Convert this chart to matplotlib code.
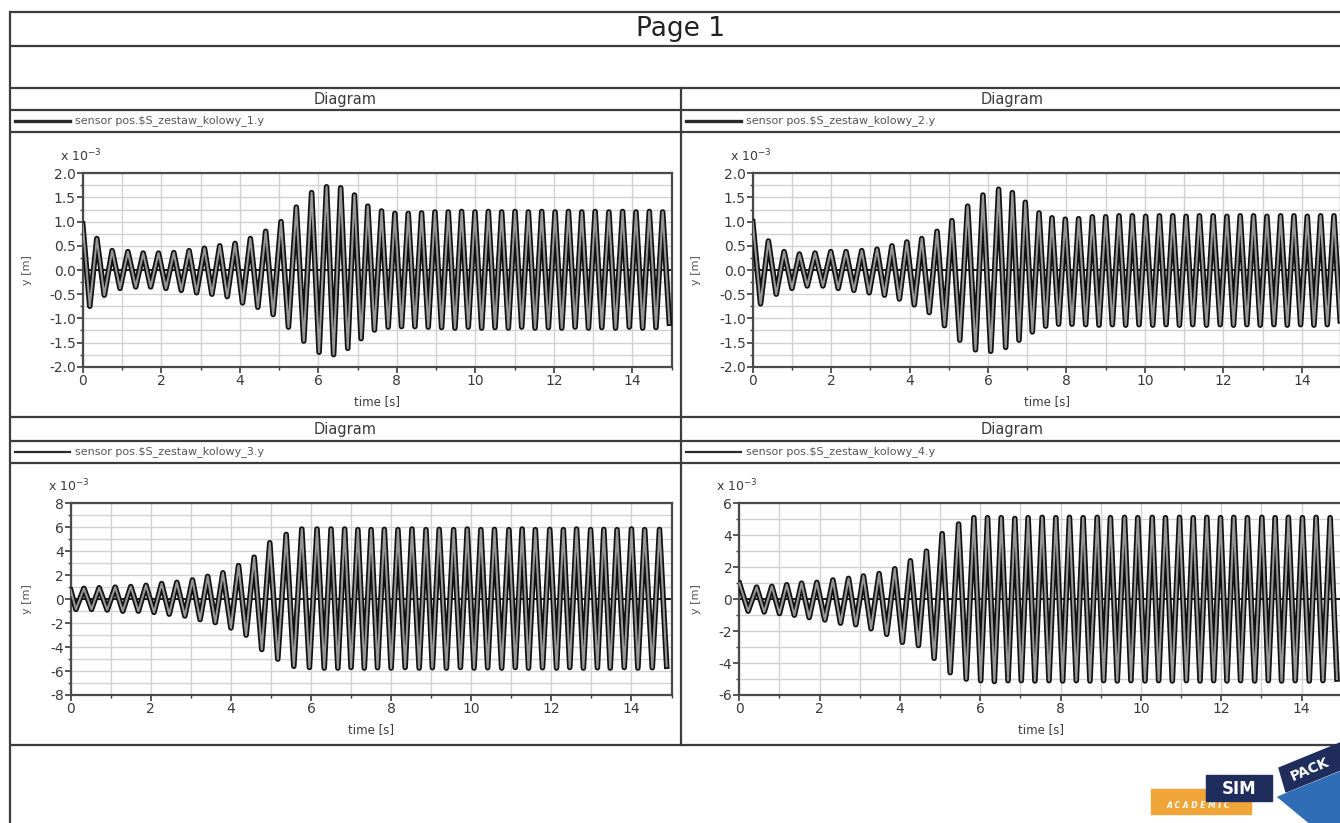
import numpy as np
import matplotlib
matplotlib.use("Agg")
import matplotlib.pyplot as plt
from matplotlib.patches import Rectangle, Polygon
from matplotlib.ticker import FormatStrFormatter

plt.rcParams["font.family"] = ["DejaVu Sans"]

# lateral displacement of the four wheelsets, y in 1e-3 m, t in s
# each trace: start value, then the upper and lower turning points
labels = [
    "sensor pos.\\$S_zestaw_kolowy_1.y",
    "sensor pos.\\$S_zestaw_kolowy_2.y",
    "sensor pos.\\$S_zestaw_kolowy_3.y",
    "sensor pos.\\$S_zestaw_kolowy_4.y",
]

start_1 = 0.95
t_hi_1 = [0.36, 0.75, 1.15, 1.54, 1.93, 2.32, 2.71, 3.10, 3.49, 3.88,
          4.27, 4.66, 5.05, 5.44, 5.83, 6.21, 6.57, 6.92, 7.26, 7.61,
          7.95, 8.29, 8.63, 8.97, 9.31, 9.65, 9.99, 10.33, 10.67, 11.01,
          11.35, 11.69, 12.03, 12.37, 12.71, 13.05, 13.40, 13.75, 14.09, 14.43,
          14.77]
y_hi_1 = [0.65, 0.40, 0.38, 0.35, 0.35, 0.36, 0.40, 0.45, 0.50, 0.55,
          0.65, 0.80, 1.00, 1.30, 1.60, 1.72, 1.70, 1.55, 1.32, 1.22,
          1.17, 1.17, 1.18, 1.20, 1.20, 1.21, 1.20, 1.21, 1.20, 1.21,
          1.20, 1.21, 1.20, 1.21, 1.20, 1.21, 1.20, 1.21, 1.20, 1.21,
          1.20]
t_lo_1 = [0.18, 0.55, 0.95, 1.35, 1.73, 2.12, 2.51, 2.90, 3.29, 3.68,
          4.07, 4.46, 4.85, 5.24, 5.63, 6.02, 6.39, 6.75, 7.09, 7.43,
          7.78, 8.12, 8.46, 8.80, 9.14, 9.48, 9.82, 10.16, 10.50, 10.84,
          11.18, 11.52, 11.86, 12.20, 12.54, 12.88, 13.22, 13.57, 13.92, 14.26,
          14.60, 14.94]
y_lo_1 = [-0.75, -0.52, -0.38, -0.35, -0.35, -0.38, -0.42, -0.47, -0.50, -0.55,
          -0.68, -0.77, -0.92, -1.18, -1.47, -1.70, -1.75, -1.62, -1.42, -1.24,
          -1.18, -1.17, -1.17, -1.18, -1.19, -1.20, -1.18, -1.20, -1.19, -1.20,
          -1.18, -1.20, -1.19, -1.20, -1.18, -1.20, -1.19, -1.20, -1.18, -1.20,
          -1.19, -1.10]

start_2 = 1.0
t_hi_2 = [0.40, 0.80, 1.19, 1.59, 1.99, 2.38, 2.78, 3.17, 3.55, 3.93,
          4.31, 4.70, 5.08, 5.48, 5.87, 6.27, 6.62, 6.95, 7.30, 7.63,
          7.97, 8.31, 8.66, 9.00, 9.34, 9.68, 10.02, 10.37, 10.71, 11.05,
          11.39, 11.74, 12.09, 12.43, 12.77, 13.11, 13.46, 13.80, 14.14, 14.48,
          14.82]
y_hi_2 = [0.60, 0.38, 0.33, 0.35, 0.38, 0.38, 0.40, 0.43, 0.50, 0.58,
          0.65, 0.80, 1.02, 1.32, 1.55, 1.67, 1.60, 1.40, 1.18, 1.08,
          1.05, 1.06, 1.10, 1.10, 1.12, 1.12, 1.11, 1.12, 1.12, 1.11,
          1.12, 1.12, 1.11, 1.12, 1.12, 1.11, 1.12, 1.12, 1.11, 1.12,
          1.12]
t_lo_2 = [0.20, 0.60, 1.00, 1.39, 1.79, 2.18, 2.58, 2.97, 3.36, 3.74,
          4.12, 4.50, 4.89, 5.28, 5.68, 6.07, 6.45, 6.79, 7.13, 7.47,
          7.80, 8.14, 8.49, 8.83, 9.17, 9.51, 9.85, 10.20, 10.54, 10.88,
          11.22, 11.57, 11.92, 12.26, 12.60, 12.94, 13.29, 13.63, 13.97, 14.31,
          14.65, 14.98]
y_lo_2 = [-0.70, -0.50, -0.38, -0.33, -0.33, -0.38, -0.42, -0.47, -0.52, -0.60,
          -0.72, -0.88, -1.15, -1.45, -1.65, -1.68, -1.60, -1.45, -1.28, -1.16,
          -1.12, -1.12, -1.13, -1.14, -1.13, -1.14, -1.13, -1.14, -1.13, -1.14,
          -1.13, -1.14, -1.13, -1.14, -1.13, -1.14, -1.13, -1.14, -1.13, -1.14,
          -1.13, -1.05]

start_3 = 0.75
t_hi_3 = [0.33, 0.71, 1.11, 1.50, 1.88, 2.27, 2.65, 3.04, 3.42, 3.80,
          4.19, 4.58, 4.97, 5.38, 5.77, 6.15, 6.50, 6.84, 7.17, 7.50,
          7.83, 8.17, 8.52, 8.87, 9.20, 9.56, 9.90, 10.24, 10.58, 10.94,
          11.27, 11.60, 11.96, 12.30, 12.63, 12.98, 13.31, 13.64, 14.00, 14.33,
          14.70]
y_hi_3 = [0.90, 0.95, 1.00, 1.05, 1.15, 1.30, 1.40, 1.60, 1.90, 2.20,
          2.80, 3.50, 4.70, 5.40, 5.85, 5.85, 5.85, 5.85, 5.80, 5.80,
          5.82, 5.80, 5.85, 5.80, 5.82, 5.80, 5.85, 5.80, 5.82, 5.80,
          5.85, 5.80, 5.82, 5.80, 5.85, 5.80, 5.82, 5.80, 5.85, 5.80,
          5.82]
t_lo_3 = [0.13, 0.52, 0.91, 1.30, 1.69, 2.08, 2.46, 2.85, 3.23, 3.61,
          4.00, 4.38, 4.77, 5.17, 5.57, 5.96, 6.33, 6.67, 7.00, 7.33,
          7.66, 8.00, 8.35, 8.70, 9.03, 9.38, 9.73, 10.07, 10.41, 10.76,
          11.10, 11.43, 11.78, 12.13, 12.46, 12.80, 13.15, 13.47, 13.82, 14.16,
          14.52, 14.88]
y_lo_3 = [-0.85, -0.85, -0.90, -1.00, -1.00, -1.10, -1.25, -1.40, -1.70, -1.95,
          -2.40, -3.00, -4.20, -5.00, -5.60, -5.70, -5.75, -5.75, -5.70, -5.75,
          -5.72, -5.75, -5.70, -5.75, -5.72, -5.75, -5.70, -5.75, -5.72, -5.75,
          -5.70, -5.75, -5.72, -5.75, -5.70, -5.75, -5.72, -5.75, -5.70, -5.75,
          -5.72, -5.60]

start_4 = 1.0
t_hi_4 = [0.43, 0.81, 1.18, 1.55, 1.93, 2.33, 2.72, 3.09, 3.48, 3.87,
          4.26, 4.66, 5.05, 5.46, 5.84, 6.18, 6.52, 6.86, 7.19, 7.54,
          7.88, 8.22, 8.56, 8.91, 9.24, 9.59, 9.92, 10.28, 10.61, 10.96,
          11.30, 11.64, 11.98, 12.31, 12.65, 13.01, 13.34, 13.67, 14.02, 14.36,
          14.71]
y_hi_4 = [0.75, 0.80, 0.90, 1.00, 1.05, 1.20, 1.30, 1.45, 1.60, 1.90,
          2.40, 3.00, 4.10, 4.70, 5.10, 5.10, 5.10, 5.05, 5.10, 5.12,
          5.10, 5.12, 5.10, 5.12, 5.10, 5.12, 5.10, 5.12, 5.10, 5.12,
          5.10, 5.12, 5.10, 5.12, 5.10, 5.12, 5.10, 5.12, 5.10, 5.12,
          5.10]
t_lo_4 = [0.22, 0.62, 1.00, 1.37, 1.74, 2.13, 2.52, 2.90, 3.28, 3.67,
          4.06, 4.46, 4.85, 5.25, 5.65, 6.01, 6.35, 6.69, 7.02, 7.36,
          7.71, 8.05, 8.39, 8.73, 9.07, 9.41, 9.75, 10.10, 10.44, 10.78,
          11.13, 11.47, 11.81, 12.14, 12.48, 12.83, 13.17, 13.50, 13.84, 14.19,
          14.53, 14.88]
y_lo_4 = [-0.75, -0.80, -0.90, -1.00, -1.15, -1.30, -1.50, -1.60, -1.85, -2.20,
          -2.70, -2.90, -3.70, -4.60, -5.00, -5.10, -5.15, -5.10, -5.10, -5.12,
          -5.10, -5.12, -5.10, -5.12, -5.10, -5.12, -5.10, -5.12, -5.10, -5.12,
          -5.10, -5.12, -5.10, -5.12, -5.10, -5.12, -5.10, -5.12, -5.10, -5.12,
          -5.10, -5.00]

W, H = 1340, 823
TXT = "#3a3a3a"
LINE = "#3c3c3c"


def trace(start, t_hi, y_hi, t_lo, y_lo):
    t = np.concatenate([[0.0], t_hi, t_lo])
    y = np.concatenate([[start], y_hi, y_lo])
    order = np.argsort(t)
    return t[order], y[order]


def px_rect(x0, y0, x1, y1):
    return [x0 / W, 1 - y1 / H, (x1 - x0) / W, (y1 - y0) / H]


def panel(fig, box, t, y, ylim, ystep, yminor, fmt):
    ax = fig.add_axes(px_rect(*box))
    ax.plot(t, y, color="#111111", lw=4.0, solid_joinstyle="round", zorder=3)
    ax.plot(t, y, color="#969696", lw=1.5, zorder=4)
    ax.axhline(0, color="#1a1a1a", lw=1.4, zorder=2)
    ax.set_xlim(0, 15)
    ax.set_ylim(-ylim, ylim)
    ax.set_xticks(np.arange(0, 15, 2))
    ax.set_xticks(np.arange(1, 16, 2), minor=True)
    ax.set_yticks(np.arange(-ylim, ylim + ystep / 2, ystep))
    ax.set_yticks(np.arange(-ylim, ylim + yminor / 2, yminor), minor=True)
    ax.yaxis.set_major_formatter(FormatStrFormatter(fmt))
    ax.grid(True, which="both", color="#d2d2d2", lw=1.0, zorder=1)
    ax.tick_params(which="major", direction="out", length=4, width=1.2,
                   color=LINE, labelsize=10, labelcolor=TXT, pad=1)
    ax.tick_params(which="minor", direction="out", length=2.5, width=1.0,
                   color=LINE)
    for s in ax.spines.values():
        s.set_color("#4a4a4a")
        s.set_linewidth(1.6)
    return ax


fig = plt.figure(figsize=(W / 100, H / 100), dpi=100)

# page frame and header rows
bg = fig.add_axes([0, 0, 1, 1], zorder=-1)
bg.set_xlim(0, W)
bg.set_ylim(H, 0)
bg.axis("off")
for yy in [12, 46, 88, 110, 132, 417, 441, 463, 745]:
    bg.plot([10, W + 5], [yy, yy], color=LINE, lw=1.6, solid_capstyle="butt")
bg.plot([10, 10], [12, H + 5], color=LINE, lw=1.6)
bg.plot([680.5, 680.5], [88, 745], color=LINE, lw=1.6)

bg.text(680, 29, "Page 1", ha="center", va="center", fontsize=19, color="#222222")

cells = [(10, 680.5), (680.5, 1350)]
for i, (row_t, row_l) in enumerate([(99, 121), (429, 452)]):
    for j, (c0, c1) in enumerate(cells):
        bg.text((c0 + c1) / 2 - (3 if j else 0), row_t, "Diagram", ha="center",
                va="center", fontsize=10.5, color=TXT)
        bg.plot([c0 + 5, c0 + 60], [row_l, row_l], color="#2a2a2a",
                lw=2.4 if i == 0 else 1.6)
        bg.text(c0 + 65, row_l, labels[2 * i + j], ha="left", va="center",
                fontsize=8, color="#555555")

boxes = [(82.7, 173.3, 671.7, 366.7), (752.7, 173.3, 1341, 366.7),
         (70.7, 503.3, 671.5, 695.0), (739.3, 503.3, 1341.8, 695.0)]
series = [trace(start_1, t_hi_1, y_hi_1, t_lo_1, y_lo_1),
          trace(start_2, t_hi_2, y_hi_2, t_lo_2, y_lo_2),
          trace(start_3, t_hi_3, y_hi_3, t_lo_3, y_lo_3),
          trace(start_4, t_hi_4, y_hi_4, t_lo_4, y_lo_4)]
scales = [(2.0, 0.5, 0.25, "%.1f"), (2.0, 0.5, 0.25, "%.1f"),
          (8, 2, 1, "%d"), (6, 2, 1, "%d")]

for box, (t, y), (lim, step, minor, fmt) in zip(boxes, series, scales):
    panel(fig, box, t, y, lim, step, minor, fmt)
    x0, y0, x1, y1 = box
    bg.text(x0 - 23, y0 - 12, r"x 10$^{-3}$", ha="left", va="baseline",
            fontsize=9, color=TXT)
    ylx = 27 if x0 < 600 else 696
    bg.text(ylx, (y0 + y1) / 2, "y [m]", rotation=90, ha="center",
            va="center", fontsize=8, color="#555555")
    bg.text(x0 + (x1 - x0) * 0.5, y1 + 35, "time [s]", ha="center",
            va="center", fontsize=8.5, color=TXT)

# SIMPACK ACADEMIC badge
bg.add_patch(Rectangle((1151, 789), 100, 25, color="#f0a539", zorder=2))
bg.text(1198, 806, "A C A D E M I C", ha="center", va="center", fontsize=5.5,
        color="white", fontweight="bold", style="italic", zorder=3)
bg.add_patch(Rectangle((1206, 775), 66, 26, color="#1e2d5c", zorder=3))
bg.text(1239, 789, "SIM", ha="center", va="center", fontsize=12,
        color="white", fontweight="bold", zorder=4)
bg.add_patch(Polygon([(1278, 797), (1345, 770), (1345, 830), (1318, 830)],
                     closed=True, color="#2f6db6", zorder=2))
bg.add_patch(Polygon([(1279, 768), (1345, 741), (1345, 768), (1286, 792)],
                     closed=True, color="#1e2d5c", zorder=3))
bg.text(1310, 769, "PACK", ha="center", va="center", fontsize=10, rotation=23,
        color="white", fontweight="bold", zorder=4)

fig.savefig("out.png", dpi=100)
